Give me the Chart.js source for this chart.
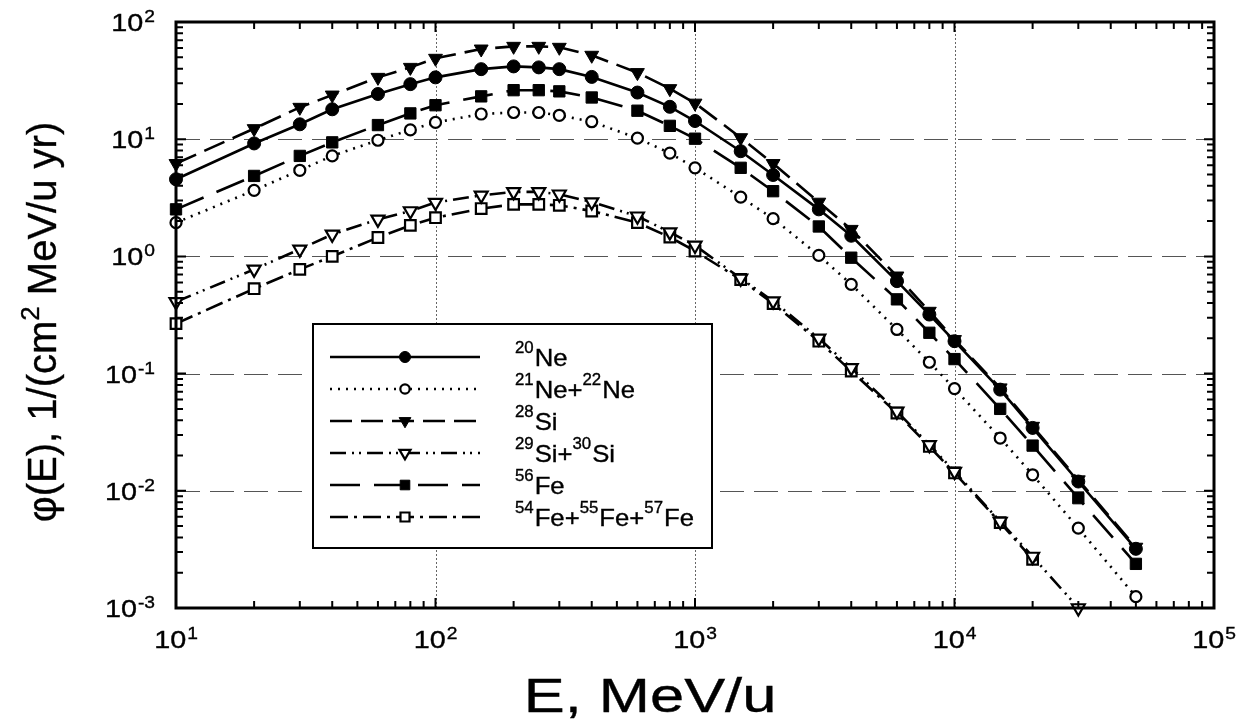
<!DOCTYPE html>
<html>
<head>
<meta charset="utf-8">
<script src="https://cdn.jsdelivr.net/npm/chart.js@4.4.1/dist/chart.umd.min.js"></script>
<style>
html, body { margin: 0; padding: 0; background: #fff; }
</style>
</head>
<body>
<canvas id="flux" width="1244" height="722"></canvas>
<script>
// energies, MeV/u
const energies = [10, 20, 30, 40, 60, 80, 100, 150, 200, 250, 300, 400, 600, 800, 1000, 1500, 2000, 3000, 4000, 6000, 8000, 10000, 15000, 20000, 30000, 50000]

// phi(E), 1/(cm2 MeV/u yr)
const ne20 = [4.55, 9.2, 13.4, 18, 24.3, 29.5, 33.7, 39.6, 41.8, 41, 39.6, 34, 25, 18.9, 14.3, 7.9, 4.95, 2.52, 1.5, 0.615, 0.319, 0.189, 0.073, 0.0344, 0.012, 0.0032]
const ne21ne22 = [1.94, 3.66, 5.43, 7.2, 9.8, 12, 13.9, 16.4, 16.9, 16.9, 16, 14.1, 10.2, 7.6, 5.7, 3.2, 2.1, 1.02, 0.577, 0.238, 0.125, 0.0745, 0.0282, 0.0137, 0.0048, 0.00125]
const si28 = [6.2, 12.3, 18.7, 23.8, 33.7, 41, 49, 58.8, 62, 62, 60.8, 52, 37, 27, 20.3, 10.3, 6.2, 2.9, 1.7, 0.68, 0.34, 0.195, 0.0755, 0.0355, 0.0124, 0.0033]
const si29si30 = [0.41, 0.775, 1.15, 1.54, 2.07, 2.44, 2.88, 3.32, 3.55, 3.55, 3.39, 2.91, 2.2, 1.61, 1.24, 0.65, 0.415, 0.2, 0.112, 0.0476, 0.0247, 0.0146, 0.00547, 0.00275, 0.001, null]
const fe56 = [2.52, 4.86, 7.2, 9.4, 13.2, 16.6, 19.5, 23.2, 26.2, 26.2, 25.6, 22.7, 17.5, 13, 10.1, 5.7, 3.6, 1.8, 0.975, 0.43, 0.223, 0.133, 0.05, 0.0243, 0.00865, 0.00238]
const fe54fe55fe57 = [0.267, 0.53, 0.775, 1.0, 1.45, 1.84, 2.14, 2.56, 2.78, 2.78, 2.73, 2.44, 1.94, 1.46, 1.11, 0.635, 0.396, 0.189, 0.105, 0.046, 0.0239, 0.0142, 0.00536, 0.0026, null, null]

// legend labels as [superscript, text] pieces
const legendLabels = [
    [['20', 'Ne']],
    [['21', 'Ne+'], ['22', 'Ne']],
    [['28', 'Si']],
    [['29', 'Si+'], ['30', 'Si']],
    [['56', 'Fe']],
    [['54', 'Fe+'], ['55', 'Fe+'], ['57', 'Fe']]
]

// tick label exponents
const xTickExps = [1, 2, 3, 4, 5]
const yTickExps = [2, 1, 0, -1, -2, -3]

const FONT = '"Liberation Sans", Arial, Helvetica, sans-serif'

function toPoints(values) {
    return energies.map((e, i) => ({ x: e, y: values[i] }))
}

function series(label, values, dash, style, filled, radius) {
    return {
        label: label,
        data: toPoints(values),
        borderColor: '#000',
        borderWidth: 2.6,
        borderDash: dash,
        pointStyle: style === 'triangleDown' ? 'triangle' : style,
        pointRotation: style === 'triangleDown' ? 180 : 0,
        pointRadius: radius,
        pointBackgroundColor: filled ? '#000' : '#fff',
        pointBorderColor: '#000',
        pointBorderWidth: filled ? 1 : 2.2,
        tension: 0,
        clip: false
    }
}

// text with a horizontal stretch and a light stroke, returns drawn width
function stretchText(ctx, text, x, y, size, sx) {
    ctx.font = size + 'px ' + FONT
    const w = ctx.measureText(text).width * sx
    ctx.save()
    ctx.translate(x, y)
    ctx.scale(sx, 1)
    ctx.textAlign = 'left'
    ctx.textBaseline = 'alphabetic'
    ctx.fillStyle = '#000'
    ctx.strokeStyle = '#000'
    ctx.lineWidth = 0.35
    ctx.setLineDash([])
    ctx.fillText(text, 0, 0)
    ctx.strokeText(text, 0, 0)
    ctx.restore()
    return w
}

function textWidth(ctx, text, size, sx) {
    ctx.font = size + 'px ' + FONT
    return ctx.measureText(text).width * sx
}

// draws "10" with a raised exponent
function drawPower(ctx, exp, x, y, align) {
    const sx = 1.2
    const base = textWidth(ctx, '10', 24, sx)
    const sup = textWidth(ctx, String(exp), 16, sx)
    const total = base + sup + 1
    let left = x
    if (align === 'center') left = x - total / 2
    if (align === 'right') left = x - total
    stretchText(ctx, '10', left, y, 24, sx)
    stretchText(ctx, String(exp), left + base + 1, y - 9, 16, sx)
}

const framePlugin = {
    id: 'frame',
    beforeDatasetsDraw(chart) {
        const ctx = chart.ctx
        const area = chart.chartArea
        const xs = chart.scales.x
        const ys = chart.scales.y
        ctx.save()
        // horizontal dashed grid
        ctx.strokeStyle = '#555'
        ctx.lineWidth = 1.2
        ctx.setLineDash([24, 10])
        ;[1, 0, -1, -2].forEach((p) => {
            const y = Math.round(ys.getPixelForValue(Math.pow(10, p))) + 0.5
            ctx.beginPath()
            ctx.moveTo(area.left, y)
            ctx.lineTo(area.right, y)
            ctx.stroke()
        })
        // vertical dotted grid
        ctx.strokeStyle = '#666'
        ctx.lineWidth = 1
        ctx.setLineDash([2, 2])
        ;[2, 3, 4].forEach((p) => {
            const x = Math.round(xs.getPixelForValue(Math.pow(10, p))) + 0.5
            ctx.beginPath()
            ctx.moveTo(x, area.top)
            ctx.lineTo(x, area.bottom)
            ctx.stroke()
        })
        ctx.restore()
    },
    afterDatasetsDraw(chart) {
        const ctx = chart.ctx
        const area = chart.chartArea
        const xs = chart.scales.x
        const ys = chart.scales.y
        ctx.save()
        ctx.setLineDash([])
        ctx.strokeStyle = '#000'
        ctx.fillStyle = '#000'

        // minor / major ticks on all sides
        ctx.lineWidth = 2
        ctx.beginPath()
        for (let p = 1; p <= 4; p++) {
            for (let m = 1; m <= 9; m++) {
                const x = xs.getPixelForValue(m * Math.pow(10, p))
                const len = m === 1 ? 10 : 7
                ctx.moveTo(x, area.bottom)
                ctx.lineTo(x, area.bottom - len)
                ctx.moveTo(x, area.top)
                ctx.lineTo(x, area.top + len)
            }
        }
        for (let p = -3; p <= 1; p++) {
            for (let m = 1; m <= 9; m++) {
                const y = ys.getPixelForValue(m * Math.pow(10, p))
                const len = m === 1 ? 10 : 7
                ctx.moveTo(area.left, y)
                ctx.lineTo(area.left + len, y)
                ctx.moveTo(area.right, y)
                ctx.lineTo(area.right - len, y)
            }
        }
        ctx.stroke()

        // frame
        ctx.lineWidth = 3
        ctx.strokeRect(area.left, area.top, area.right - area.left, area.bottom - area.top)

        // tick labels
        xTickExps.forEach((p) => {
            drawPower(ctx, p, xs.getPixelForValue(Math.pow(10, p)), 648, 'center')
        })
        yTickExps.forEach((p) => {
            drawPower(ctx, p, 155, ys.getPixelForValue(Math.pow(10, p)) + 9, 'right')
        })

        // legend box
        const box = { left: 313, top: 324, width: 399, height: 224 }
        ctx.fillStyle = '#fff'
        ctx.fillRect(box.left, box.top, box.width, box.height)
        ctx.lineWidth = 2
        ctx.strokeStyle = '#000'
        ctx.strokeRect(box.left, box.top, box.width, box.height)

        chart.data.datasets.forEach((ds, i) => {
            const rowY = 357 + i * 32
            ctx.strokeStyle = '#000'
            ctx.lineWidth = ds.borderWidth
            ctx.setLineDash(ds.borderDash)
            ctx.beginPath()
            ctx.moveTo(330, rowY)
            ctx.lineTo(480, rowY)
            ctx.stroke()
            ctx.setLineDash([])
            ctx.fillStyle = ds.pointBackgroundColor
            ctx.strokeStyle = ds.pointBorderColor
            ctx.lineWidth = ds.pointBorderWidth
            Chart.helpers.drawPoint(ctx, {
                pointStyle: ds.pointStyle,
                rotation: ds.pointRotation,
                radius: ds.pointRadius * 0.85,
                borderWidth: ds.pointBorderWidth
            }, 405, rowY)

            let x = 515
            legendLabels[i].forEach(([sup, text]) => {
                x += stretchText(ctx, sup, x, rowY - 4, 16, 1.05) + 1
                x += stretchText(ctx, text, x, rowY + 9, 24, 1.07)
            })
        })

        // x axis title
        const titleSx = 1.28
        const wTitle = textWidth(ctx, 'E, MeV/u', 48, titleSx)
        stretchText(ctx, 'E, MeV/u', 650 - wTitle / 2, 712, 48, titleSx)

        // y axis title
        ctx.save()
        ctx.translate(42, 322)
        ctx.rotate(-Math.PI / 2)
        const partA = 'φ(E), 1/(cm'
        const partSup = '2'
        const partB = ' MeV/u yr)'
        const wA = textWidth(ctx, partA, 40, 1)
        const wS = textWidth(ctx, partSup, 26, 1)
        const wB = textWidth(ctx, partB, 40, 1)
        let tx = -(wA + wS + wB) / 2
        stretchText(ctx, partA, tx, 14, 40, 1)
        tx += wA
        stretchText(ctx, partSup, tx, -3, 26, 1)
        tx += wS
        stretchText(ctx, partB, tx, 14, 40, 1)
        ctx.restore()

        ctx.restore()
    }
}

new Chart(document.getElementById('flux'), {
    type: 'line',
    data: {
        datasets: [
            series('20Ne', ne20, [], 'circle', true, 6.5),
            series('21Ne+22Ne', ne21ne22, [2, 6], 'circle', false, 5.5),
            series('28Si', si28, [22, 9], 'triangleDown', true, 8),
            series('29Si+30Si', si29si30, [16, 6, 2, 5, 2, 6], 'triangleDown', false, 7.5),
            series('56Fe', fe56, [30, 14], 'rect', true, 8),
            series('54Fe+55Fe+57Fe', fe54fe55fe57, [18, 6, 3, 6], 'rect', false, 7.5)
        ]
    },
    options: {
        responsive: false,
        animation: false,
        devicePixelRatio: 1,
        layout: { padding: { left: 176, right: 30, top: 22, bottom: 114 } },
        plugins: {
            legend: { display: false },
            tooltip: { enabled: false }
        },
        scales: {
            x: { type: 'logarithmic', min: 10, max: 100000, display: false },
            y: { type: 'logarithmic', min: 0.001, max: 100, display: false }
        }
    },
    plugins: [framePlugin]
})
</script>
</body>
</html>
